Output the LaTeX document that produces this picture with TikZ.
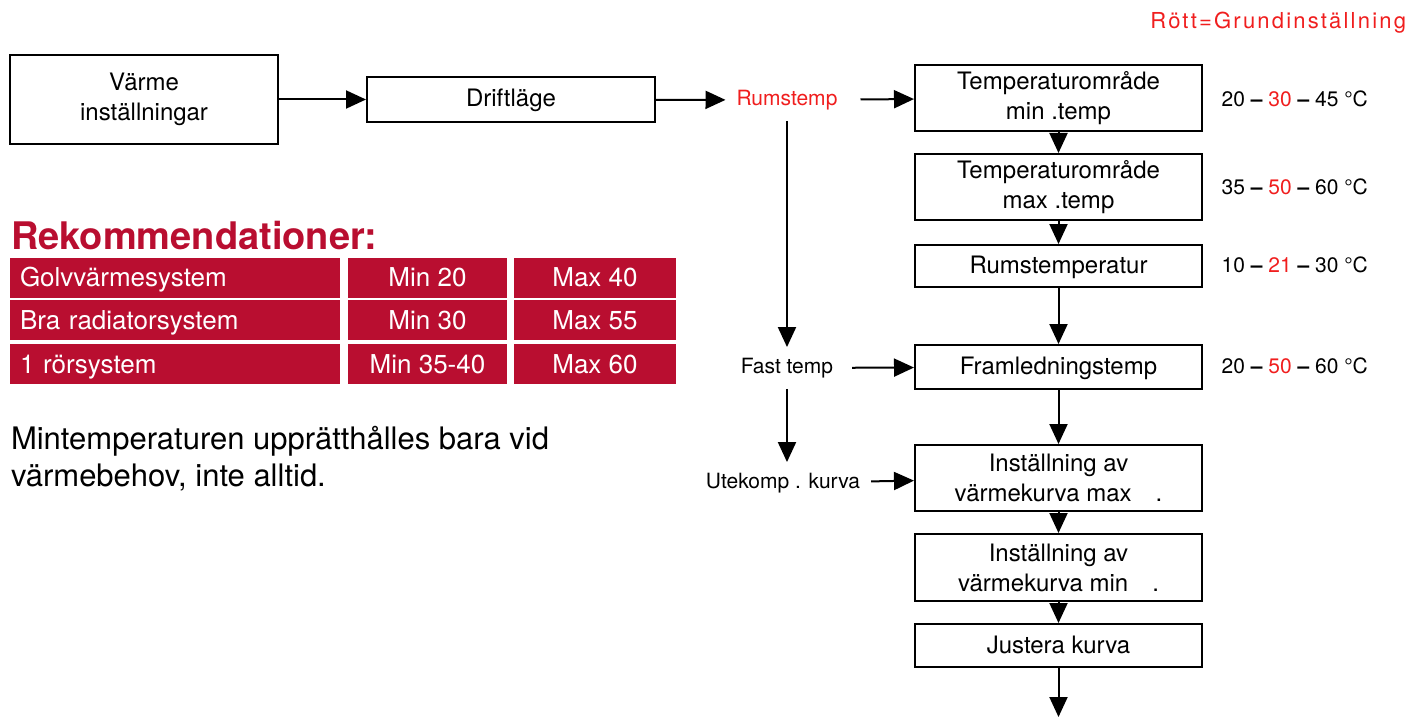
\documentclass[tikz,border=0pt]{standalone}
\usepackage{fontspec}
\setmainfont{TeX Gyre Heros}
\usetikzlibrary{arrows.meta}
\definecolor{rekred}{RGB}{185,14,48}
\definecolor{setred}{RGB}{240,30,30}

\begin{document}
\begin{tikzpicture}[x=0.5pt, y=-0.5pt, line width=1pt,
	every node/.style={font=\fontsize{12}{15}\selectfont},
	>={Triangle[length=10pt, width=9pt]},
	box/.style={draw, line width=1pt, align=center, inner sep=0pt},
	lbl/.style={font=\fontsize{10.5}{12}\selectfont, inner xsep=5pt, inner ysep=5pt},
	val/.style={anchor=west, font=\fontsize{10.5}{12}\selectfont},
	cell/.style={fill=rekred, text=white, inner sep=0pt, minimum height=20pt, text height=9pt, text depth=0pt, font=\fontsize{13}{14}\selectfont}]
	\useasboundingbox (0,0) rectangle (1409,717);
	% top line of the flow
	\node[box, minimum width=134pt, minimum height=44.5pt] (varme) at (144,99.5) {Värme\\inställningar};
	\node[box, minimum width=144pt, minimum height=22.5pt, text height=8.5pt, text depth=1pt] (drift) at (511,99.5) {Driftläge};
	\node[lbl, text=setred] (rumstemp) at (787,100) {Rumstemp};
	\node[lbl] (fasttemp) at (787,368) {Fast temp};
	\node[lbl] (utekomp) at (783,483) {Utekomp . kurva};
	% right column
	\node[box, minimum width=143.5pt, minimum height=33pt] (tmin) at (1058.5,98) {Temperaturområde\\min .temp};
	\node[box, minimum width=143.5pt, minimum height=33pt] (tmax) at (1058.5,187) {Temperaturområde\\max .temp};
	\node[box, minimum width=143.5pt, minimum height=21pt, text height=8.5pt, text depth=1pt] (rtemp) at (1058.5,266) {Rumstemperatur};
	\node[box, minimum width=143.5pt, minimum height=22pt, text height=8.5pt, text depth=1pt] (fram) at (1058.5,367) {Framledningstemp};
	\node[box, minimum width=143.5pt, minimum height=33pt] (kmax) at (1058.5,478) {Inställning av\\värmekurva max\quad.};
	\node[box, minimum width=143.5pt, minimum height=33.5pt] (kmin) at (1058.5,567.5) {Inställning av\\värmekurva min\quad.};
	\node[box, minimum width=143.5pt, minimum height=21.5pt, text height=8.5pt, text depth=1pt] (just) at (1058.5,645.5) {Justera kurva};
	\coordinate (ut) at (1058.5,717);
	% ranges
	\node[val] (vmin) at (1214,99) {20 \textbf{--} \textcolor{setred}{30} \textbf{--} 45 °C};
	\node[val] (vmax) at (1214,187) {35 \textbf{--} \textcolor{setred}{50} \textbf{--} 60 °C};
	\node[val] (vrum) at (1214,265) {10 \textbf{--} \textcolor{setred}{21} \textbf{--} 30 °C};
	\node[val] (vfram) at (1214,366) {20 \textbf{--} \textcolor{setred}{50} \textbf{--} 60 °C};
	\node[anchor=east, inner sep=0pt, text=setred, font=\fontsize{11}{12}\selectfont\addfontfeature{LetterSpace=10}] (rott) at (1407,23) {Rött=Grundinställning};
	% arrows
	\draw[->] (varme) -- (drift);
	\draw[->] (drift) -- (rumstemp);
	\draw[->, shorten <=6pt] (rumstemp) -- (tmin);
	\draw[->] (rumstemp.south) -- (fasttemp.north);
	\draw[->, shorten <=4pt] (fasttemp) -- (fram);
	\draw[->] (fasttemp.south) -- (fasttemp.south |- utekomp.north);
	\draw[->] (utekomp) -- (kmax);
	\draw[->] (tmin) -- (tmax);
	\draw[->] (tmax) -- (rtemp);
	\draw[->] (rtemp) -- (fram);
	\draw[->] (fram) -- (kmax);
	\draw[->] (kmax) -- (kmin);
	\draw[->] (kmin) -- (just);
	\draw[->] (just) -- (ut);
	% recommendations
	\node[anchor=west, text=rekred, font=\fontsize{19}{20}\bfseries\selectfont, inner sep=0pt] (rek) at (10,236) {Rekommendationer:};
	\node[cell, text width=155pt, inner xsep=5pt, align=left] (golv) at (175,277.5) {Golvvärmesystem};
	\node[cell, minimum width=79.5pt] (golvmin) at (427.5,277.5) {Min 20};
	\node[cell, minimum width=81pt] (golvmax) at (595,277.5) {Max 40};
	\node[cell, text width=155pt, inner xsep=5pt, align=left] (rad) at (175,320) {Bra radiatorsystem};
	\node[cell, minimum width=79.5pt] (radmin) at (427.5,320) {Min 30};
	\node[cell, minimum width=81pt] (radmax) at (595,320) {Max 55};
	\node[cell, text width=155pt, inner xsep=5pt, align=left] (ror) at (175,364) {1 rörsystem};
	\node[cell, minimum width=79.5pt] (rormin) at (427.5,364) {Min 35-40};
	\node[cell, minimum width=81pt] (rormax) at (595,364) {Max 60};
	\node[anchor=west, align=left, inner sep=0pt, font=\fontsize{15.5}{18.5}\selectfont] (note) at (10,459) {Mintemperaturen upprätthålles bara vid\\värmebehov, inte alltid.};
\end{tikzpicture}
\end{document}
